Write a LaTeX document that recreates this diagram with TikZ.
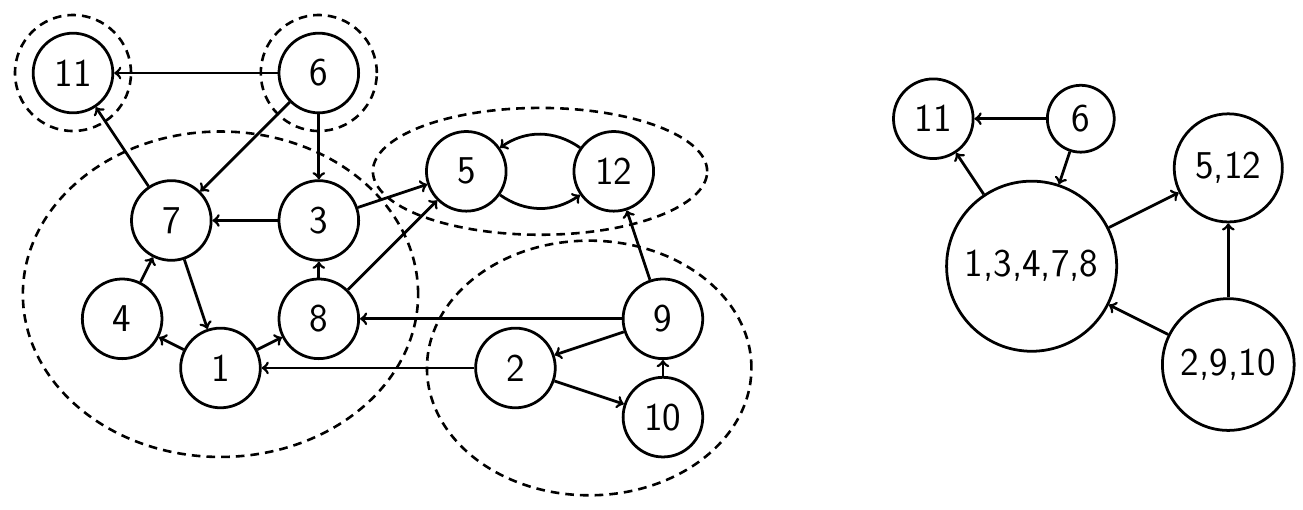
\documentclass[tikz,border=0pt]{standalone}
\usepackage{tikz}
\usetikzlibrary{positioning}
\usetikzlibrary{arrows,calc}

\begin{document}
\begin{tikzpicture} [
    auto,
    vertex/.style = { circle, draw, line width=1.6pt, minimum size=1.62cm,
                      inner sep=0pt, font=\fontsize{22.8pt}{27pt}\sffamily },
    scc/.style    = { circle, draw, line width=1.6pt, inner sep=0pt,
                      font=\fontsize{22.8pt}{27pt}\sffamily },
    group/.style  = { draw, line width=1.5pt, dash pattern=on 5pt off 3.5pt },
    line/.style   = { draw, line width=1.6pt, -> },
  ]
  \useasboundingbox (-1.485,-8.87) rectangle (25.02,1.485);

  % graph
  \node (v11) [vertex] at (0,0) {11} ;
  \node (v6) [vertex] at (5,0) {6} ;
  \node (v5) [vertex] at (8,-2) {5} ;
  \node (v12) [vertex] at (11,-2) {12} ;
  \node (v7) [vertex] at (2,-3) {7} ;
  \node (v3) [vertex] at (5,-3) {3} ;
  \node (v4) [vertex] at (1,-5) {4} ;
  \node (v8) [vertex] at (5,-5) {8} ;
  \node (v9) [vertex] at (12,-5) {9} ;
  \node (v1) [vertex] at (3,-6) {1} ;
  \node (v2) [vertex] at (9,-6) {2} ;
  \node (v10) [vertex] at (12,-7) {10} ;

  % strongly connected components
  \draw[group] (v11) circle (1.18) ;
  \draw[group] (v6) circle (1.18) ;
  \draw[group] (3,-4.5) ellipse (4.02 and 3.31) ;
  \draw[group] (9.5,-2) ellipse (3.4 and 1.29) ;
  \draw[group] (10.5,-6) ellipse (3.3 and 2.59) ;

  % condensed graph
  \node (c11) [scc, minimum size=1.62cm] at (17.5,-0.93) {11} ;
  \node (c6) [scc, minimum size=1.36cm] at (20.5,-0.93) {6} ;
  \node (c512) [scc, minimum size=2.2cm] at (23.5,-1.93) {5,12} ;
  \node (cbig) [scc, minimum size=3.46cm] at (19.5,-3.93) {1,3,4,7,8} ;
  \node (c2910) [scc, minimum size=2.68cm] at (23.5,-5.93) {2,9,10} ;

  % connect nodes
  \begin{scope}[every path/.style=line]
  \path (v6) -- (v11);
  \path (v7) -- (v11);
  \path (v6) -- (v7);
  \path (v6) -- (v3);
  \path (v3) -- (v7);
  \path (v3) -- (v5);
  \path (v8) -- (v5);
  \path (v8) -- (v3);
  \path (v7) -- (v1);
  \path (v4) -- (v7);
  \path (v1) -- (v4);
  \path (v1) -- (v8);
  \path (v9) -- (v8);
  \path (v2) -- (v1);
  \path (v9) -- (v2);
  \path (v2) -- (v10);
  \path (v10) -- (v9);
  \path (v9) -- (v12);
  \path (v5) to [bend right=35] (v12);
  \path (v12) to [bend right=35] (v5);
  %
  \path (c6) -- (c11);
  \path (cbig) -- (c11);
  \path (c6) -- (cbig);
  \path (cbig) -- (c512);
  \path (c2910) -- (cbig);
  \path (c2910) -- (c512);
  \end{scope}

\end{tikzpicture}
\end{document}
